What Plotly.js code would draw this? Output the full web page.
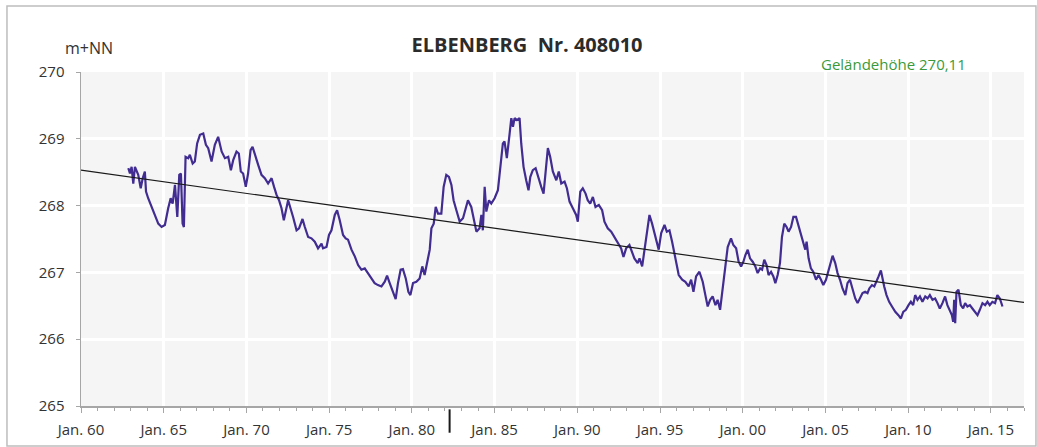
<!DOCTYPE html>
<html>
<head>
<meta charset="utf-8">
<script src="https://cdn.plot.ly/plotly-3.0.1.min.js"></script>
<style>html,body{margin:0;padding:0;background:#fff;}#chart{width:1037px;height:447px;}</style>
</head>
<body>
<div id="chart"></div>
<script>
// Groundwater level series (decimal year, m+NN)
const years = [
1962.86,1962.96,1963.06,1963.16,1963.26,1963.46,1963.61,1963.73,1963.86,1963.93,
1964.06,1964.27,1964.47,1964.67,1964.87,1965.07,1965.27,1965.42,1965.54,1965.68,
1965.82,1965.94,1966.04,1966.14,1966.22,1966.32,1966.48,1966.58,1966.75,1966.88,
1967.02,1967.19,1967.39,1967.55,1967.69,1967.89,1968.09,1968.29,1968.50,1968.70,
1968.90,1969.06,1969.20,1969.40,1969.54,1969.66,1969.80,1969.96,1970.10,1970.25,
1970.37,1970.51,1970.71,1970.91,1971.11,1971.31,1971.52,1971.67,1971.82,1971.97,
1972.12,1972.26,1972.38,1972.52,1972.82,1973.03,1973.18,1973.39,1973.53,1973.73,
1973.93,1974.13,1974.33,1974.54,1974.63,1974.84,1974.99,1975.14,1975.34,1975.48,
1975.64,1975.84,1976.00,1976.14,1976.35,1976.55,1976.75,1976.95,1977.15,1977.35,
1977.55,1977.75,1977.95,1978.16,1978.36,1978.50,1978.66,1978.86,1979.02,1979.16,
1979.32,1979.46,1979.63,1979.79,1979.91,1980.07,1980.27,1980.47,1980.63,1980.77,
1980.91,1981.08,1981.18,1981.32,1981.44,1981.58,1981.78,1981.92,1982.08,1982.24,
1982.39,1982.52,1982.69,1982.89,1983.09,1983.39,1983.59,1983.79,1983.90,1984.09,
1984.20,1984.29,1984.40,1984.50,1984.66,1984.80,1985.00,1985.20,1985.34,1985.50,
1985.60,1985.74,1985.91,1986.01,1986.11,1986.21,1986.35,1986.51,1986.61,1986.75,
1986.91,1987.05,1987.16,1987.31,1987.48,1987.62,1987.82,1987.96,1988.08,1988.22,
1988.36,1988.52,1988.73,1988.88,1989.03,1989.23,1989.37,1989.53,1989.73,1989.93,
1990.03,1990.18,1990.33,1990.50,1990.63,1990.78,1990.94,1991.10,1991.30,1991.50,
1991.64,1991.84,1992.05,1992.25,1992.45,1992.65,1992.79,1992.95,1993.15,1993.32,
1993.45,1993.65,1993.76,1993.92,1994.06,1994.20,1994.36,1994.52,1994.66,1994.80,
1994.92,1995.07,1995.27,1995.41,1995.57,1995.73,1995.87,1996.01,1996.13,1996.34,
1996.53,1996.73,1996.88,1997.02,1997.18,1997.38,1997.58,1997.74,1997.88,1998.03,
1998.18,1998.35,1998.48,1998.63,1998.79,1998.95,1999.09,1999.29,1999.43,1999.60,
1999.75,1999.90,2000.04,2000.16,2000.30,2000.44,2000.60,2000.76,2000.90,2001.05,
2001.17,2001.30,2001.44,2001.56,2001.71,2001.85,2001.97,2002.11,2002.25,2002.37,
2002.51,2002.65,2002.77,2002.92,2003.06,2003.22,2003.38,2003.52,2003.66,2003.78,
2003.86,2003.98,2004.12,2004.26,2004.43,2004.58,2004.73,2004.87,2005.03,2005.19,
2005.23,2005.43,2005.59,2005.73,2005.88,2006.03,2006.20,2006.33,2006.48,2006.64,
2006.80,2006.94,2007.08,2007.24,2007.40,2007.54,2007.65,2007.81,2007.95,2008.05,
2008.21,2008.35,2008.45,2008.55,2008.69,2008.85,2009.02,2009.22,2009.41,2009.56,
2009.70,2009.86,2010.02,2010.16,2010.30,2010.42,2010.56,2010.71,2010.86,2011.03,
2011.17,2011.31,2011.47,2011.63,2011.77,2011.91,2012.07,2012.23,2012.37,2012.52,
2012.64,2012.72,2012.78,2012.84,2012.92,2013.04,2013.18,2013.32,2013.44,2013.58,
2013.73,2013.88,2014.05,2014.19,2014.33,2014.49,2014.65,2014.79,2014.93,2015.09,
2015.25,2015.39,2015.54,2015.70
];
const levels = [
268.56,268.48,268.58,268.33,268.58,268.46,268.26,268.41,268.51,268.21,
268.11,267.98,267.86,267.73,267.68,267.71,267.96,268.11,268.03,268.31,
267.83,268.46,268.48,267.73,267.68,268.73,268.71,268.76,268.63,268.66,
268.93,269.06,269.08,268.91,268.86,268.66,268.91,269.03,268.81,268.71,
268.73,268.53,268.68,268.81,268.78,268.51,268.48,268.28,268.48,268.83,
268.88,268.78,268.61,268.46,268.41,268.33,268.41,268.28,268.16,268.08,
267.96,267.78,267.93,268.08,267.83,267.63,267.66,267.80,267.68,267.53,
267.51,267.46,267.36,267.43,267.36,267.38,267.56,267.63,267.86,267.93,
267.78,267.56,267.51,267.49,267.34,267.24,267.11,267.04,267.06,266.99,
266.91,266.84,266.81,266.79,266.86,266.95,266.84,266.69,266.60,266.84,
267.04,267.05,266.91,266.71,266.66,266.84,266.86,266.91,267.09,266.96,
267.11,267.34,267.66,267.73,267.98,267.88,267.88,268.28,268.46,268.43,
268.31,268.08,267.93,267.76,267.81,268.08,267.98,267.73,267.61,267.66,
267.86,267.63,268.28,267.91,268.08,268.03,268.11,268.23,268.58,268.93,
268.96,268.71,269.08,269.31,269.18,269.31,269.28,269.31,268.93,268.58,
268.38,268.23,268.43,268.53,268.56,268.43,268.28,268.18,268.48,268.86,
268.73,268.51,268.38,268.51,268.33,268.36,268.26,268.06,267.96,267.86,
267.76,268.21,268.26,268.18,268.08,268.03,268.13,267.98,268.01,267.93,
267.76,267.66,267.61,267.53,267.43,267.36,267.23,267.36,267.41,267.31,
267.21,267.14,267.21,267.09,267.34,267.53,267.86,267.73,267.59,267.43,
267.34,267.59,267.71,267.61,267.63,267.46,267.29,267.16,266.96,266.89,
266.86,266.79,266.89,266.71,266.94,267.01,266.86,266.66,266.49,266.59,
266.64,266.51,266.59,266.44,266.74,267.09,267.38,267.51,267.41,267.36,
267.16,267.09,267.16,267.26,267.34,267.21,267.16,267.09,266.99,267.06,
267.04,267.19,267.11,266.96,267.01,266.94,266.84,266.96,267.14,267.53,
267.73,267.68,267.61,267.68,267.83,267.83,267.68,267.59,267.43,267.34,
267.46,267.21,267.06,267.01,266.89,266.96,266.89,266.81,266.89,267.04,
267.09,267.25,267.14,266.99,266.89,266.76,266.66,266.84,266.89,266.76,
266.61,266.54,266.61,266.69,266.71,266.69,266.76,266.81,266.79,266.86,
266.94,267.03,266.89,266.79,266.66,266.56,266.49,266.41,266.36,266.31,
266.41,266.44,266.51,266.56,266.51,266.66,266.59,266.64,266.56,266.64,
266.61,266.66,266.59,266.61,266.54,266.46,266.54,266.64,266.51,266.44,
266.36,266.26,266.59,266.24,266.71,266.74,266.51,266.46,266.54,266.49,
266.51,266.46,266.41,266.36,266.44,266.54,266.51,266.56,266.51,266.56,
266.54,266.66,266.61,266.49
];
// Linear trend line end points
const trendYears = [1960, 2017];
const trendLevels = [268.53, 266.55];
// Axis ticks
const xTickVals = [1960,1965,1970,1975,1980,1985,1990,1995,2000,2005,2010,2015];
const xTickText = ["Jan. 60","Jan. 65","Jan. 70","Jan. 75","Jan. 80","Jan. 85","Jan. 90","Jan. 95","Jan. 00","Jan. 05","Jan. 10","Jan. 15"];
const yTickVals = [265,266,267,268,269,270];
const yTickText = ["265","266","267","268","269","270"];
const markerYear = 1982.28;

const FONT = '"Open Sans", Lato, sans-serif';

const traces = [
  {x: years, y: levels, type: 'scatter', mode: 'lines',
   line: {color: '#412c91', width: 2.2}, hoverinfo: 'skip', showlegend: false},
  {x: trendYears, y: trendLevels, type: 'scatter', mode: 'lines',
   line: {color: '#1a1a1a', width: 1.2}, hoverinfo: 'skip', showlegend: false}
];

const layout = {
  width: 1037, height: 447,
  margin: {l: 81, r: 13, t: 72, b: 41, pad: 0},
  paper_bgcolor: '#ffffff',
  plot_bgcolor: '#f5f5f5',
  font: {family: FONT, color: '#333333', size: 15},
  showlegend: false,
  title: {text: 'ELBENBERG\u00a0 Nr. 408010', font: {family: FONT, size: 20, color: '#2b2b2b', weight: 'bold'},
          xref: 'paper', x: 0.473, xanchor: 'center', yref: 'container', y: 0.9, yanchor: 'middle'},
  xaxis: {
    type: 'linear', range: [1960, 2017], fixedrange: true,
    tickmode: 'array', tickvals: xTickVals, ticktext: xTickText,
    ticks: 'outside', ticklen: 5, tickwidth: 1, tickcolor: '#a6a6a6',
    showline: true, linecolor: '#a6a6a6', linewidth: 1.5,
    showgrid: true, gridcolor: '#ffffff', gridwidth: 3,
    zeroline: false, ticklabelstandoff: 4,
    tickfont: {family: FONT, size: 15, color: '#333333'},
    minor: {tickmode: 'linear', tick0: 1960, dtick: 1, ticks: 'outside', ticklen: 3, tickcolor: '#a6a6a6', showgrid: false}
  },
  yaxis: {
    range: [265, 270], fixedrange: true,
    tickmode: 'array', tickvals: yTickVals, ticktext: yTickText,
    ticks: 'outside', ticklen: 4, tickwidth: 1, tickcolor: '#a6a6a6',
    showline: true, linecolor: '#a6a6a6', linewidth: 1.5,
    showgrid: true, gridcolor: '#ffffff', gridwidth: 3,
    zeroline: false, ticklabelstandoff: 8,
    tickfont: {family: FONT, size: 15, color: '#333333'}
  },
  annotations: [
    {text: 'm+NN', xref: 'paper', yref: 'paper', x: -0.0191, y: 1.0719, xanchor: 'left', yanchor: 'middle',
     showarrow: false, font: {family: FONT, size: 16, color: '#333333'}},
    {text: 'Geländehöhe 270,11', xref: 'paper', yref: 'paper', x: 0.7826, y: 1.024, xanchor: 'left', yanchor: 'middle',
     showarrow: false, font: {family: FONT, size: 15, color: '#3a9a3a'}}
  ],
  shapes: [
    {type: 'rect', xref: 'paper', yref: 'paper', x0: -0.0785, x1: 1.0127, y0: -0.1198, y1: 1.1976,
     line: {color: '#bdbdbd', width: 1.5}, fillcolor: 'rgba(0,0,0,0)', layer: 'below'},
    {type: 'line', xref: 'x', yref: 'paper', x0: markerYear, x1: markerYear, y0: -0.08, y1: -0.01,
     line: {color: '#1a1a1a', width: 2}}
  ]
};

Plotly.newPlot('chart', traces, layout, {staticPlot: true, displayModeBar: false});
</script>
</body>
</html>
